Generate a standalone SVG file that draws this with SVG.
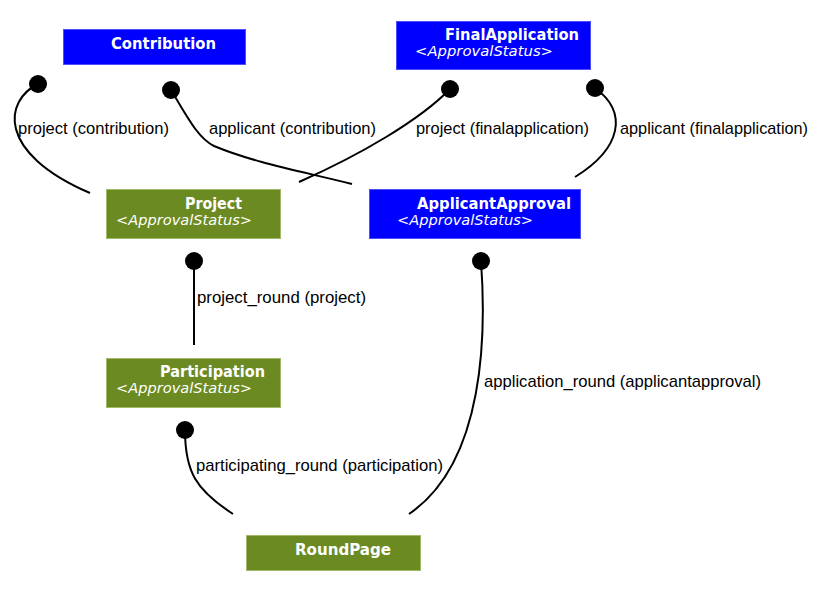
<svg xmlns="http://www.w3.org/2000/svg" width="816" height="598" viewBox="0 0 816 598">
<style>
.blue{fill:#0000ff;stroke:#4d4dff;stroke-width:1}
.olive{fill:#6b8a22;stroke:#a3b96a;stroke-width:1}
.t{font-family:"DejaVu Sans",sans-serif;font-weight:bold;font-size:15px;fill:#fff}
.s{font-family:"DejaVu Sans",sans-serif;font-style:italic;font-size:14px;fill:#fff}
.l{font-family:"Liberation Sans",Arial,sans-serif;font-size:17px;fill:#000}
.e{fill:none;stroke:#000;stroke-width:2}
.d{fill:#000}
</style>
<rect width="816" height="598" fill="#fff"/>
<g id="connectors">
<path class="e" d="M38 84 C5 100 -5 152 90 193"/>
<circle class="d" cx="38" cy="84" r="9"/>
<text class="l" x="18" y="134" textLength="151" lengthAdjust="spacingAndGlyphs">project (contribution)</text>
<path class="e" d="M171 90 C188 118 198 138 214 146 C255 163 300 171 352 184"/>
<circle class="d" cx="171" cy="90" r="9"/>
<text class="l" x="209" y="134" textLength="167" lengthAdjust="spacingAndGlyphs">applicant (contribution)</text>
<path class="e" d="M450 89 C420 120 360 155 299 182"/>
<circle class="d" cx="450" cy="89" r="9"/>
<text class="l" x="416" y="134" textLength="173" lengthAdjust="spacingAndGlyphs">project (finalapplication)</text>
<path class="e" d="M595 88 C628 112 622 148 575 177"/>
<circle class="d" cx="595" cy="88" r="9"/>
<text class="l" x="620" y="134" textLength="188" lengthAdjust="spacingAndGlyphs">applicant (finalapplication)</text>
<path class="e" d="M194 261 L194 345"/>
<circle class="d" cx="194" cy="261" r="9"/>
<text class="l" x="197" y="303" textLength="169" lengthAdjust="spacingAndGlyphs">project_round (project)</text>
<path class="e" d="M481 261 C486 330 486 462 409 514"/>
<circle class="d" cx="481" cy="261" r="9"/>
<text class="l" x="484" y="387" textLength="277" lengthAdjust="spacingAndGlyphs">application_round (applicantapproval)</text>
<path class="e" d="M185 430 C185 472 196 490 233 514"/>
<circle class="d" cx="185" cy="430" r="9"/>
<text class="l" x="196" y="471" textLength="247" lengthAdjust="spacingAndGlyphs">participating_round (participation)</text>
</g>
<g id="Contribution">
<rect class="blue" x="63.5" y="29.5" width="182" height="35"/>
<text class="t" x="111" y="49" textLength="105" lengthAdjust="spacingAndGlyphs">Contribution</text>
</g>
<g id="FinalApplication">
<rect class="blue" x="396.5" y="21.5" width="194" height="48"/>
<text class="t" x="445" y="40" textLength="134" lengthAdjust="spacingAndGlyphs">FinalApplication</text>
<text class="s" x="415" y="56" textLength="138" lengthAdjust="spacingAndGlyphs">&lt;ApprovalStatus&gt;</text>
</g>
<g id="Project">
<rect class="olive" x="106.5" y="189.5" width="174" height="49"/>
<text class="t" x="185" y="209" textLength="57" lengthAdjust="spacingAndGlyphs">Project</text>
<text class="s" x="116" y="225" textLength="136" lengthAdjust="spacingAndGlyphs">&lt;ApprovalStatus&gt;</text>
</g>
<g id="ApplicantApproval">
<rect class="blue" x="369.5" y="189.5" width="211" height="49"/>
<text class="t" x="417" y="209" textLength="154" lengthAdjust="spacingAndGlyphs">ApplicantApproval</text>
<text class="s" x="397" y="225" textLength="136" lengthAdjust="spacingAndGlyphs">&lt;ApprovalStatus&gt;</text>
</g>
<g id="Participation">
<rect class="olive" x="106.5" y="358.5" width="174" height="49"/>
<text class="t" x="160" y="377" textLength="105" lengthAdjust="spacingAndGlyphs">Participation</text>
<text class="s" x="116" y="393" textLength="136" lengthAdjust="spacingAndGlyphs">&lt;ApprovalStatus&gt;</text>
</g>
<g id="RoundPage">
<rect class="olive" x="246.5" y="535.5" width="174" height="35"/>
<text class="t" x="295" y="555" textLength="96" lengthAdjust="spacingAndGlyphs">RoundPage</text>
</g>
</svg>
